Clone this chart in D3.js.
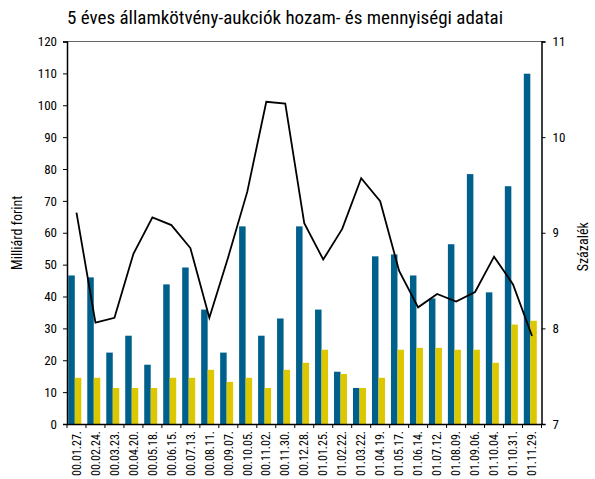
<!DOCTYPE html>
<html>
<head>
<meta charset="utf-8">
<script src="https://cdn.jsdelivr.net/npm/d3@7"></script>
<style>
  body { margin: 0; background: #fff; }
  svg text { font-family: "Liberation Sans Narrow", "Arial Narrow", "Roboto Condensed", sans-serif; fill: #000; }
</style>
</head>
<body>
<div id="chart"></div>
<script>
// auction dates
const dates = ['00.01.27.', '00.02.24.', '00.03.23.', '00.04.20.', '00.05.18.', '00.06.15.', '00.07.13.',
  '00.08.11.', '00.09.07.', '00.10.05.', '00.11.02.', '00.11.30.', '00.12.28.', '01.01.25.', '01.02.22.',
  '01.03.22.', '01.04.19.', '01.05.17.', '01.06.14.', '01.07.12.', '01.08.09.', '01.09.06.', '01.10.04.',
  '01.10.31.', '01.11.29.'];

// milliard forint (left axis)
const blueValues = [46.6, 46, 22.4, 27.7, 18.6, 43.8, 49.1, 35.9, 22.4, 62, 27.7, 33.1, 62,
  35.9, 16.4, 11.3, 52.6, 53.2, 46.6, 39.4, 56.4, 78.4, 41.3, 74.6, 109.9];
const yellowValues = [14.5, 14.5, 11.3, 11.3, 11.3, 14.5, 14.5, 17, 13.2, 14.5, 11.3, 17, 19.2,
  23.3, 15.7, 11.3, 14.5, 23.3, 23.9, 23.9, 23.3, 23.3, 19.2, 31.2, 32.4];

// percent (right axis)
const yieldValues = [9.21, 8.06, 8.11, 8.78, 9.16, 9.08, 8.84, 8.11, 8.75, 9.43, 10.37, 10.35, 9.1,
  8.72, 9.04, 9.57, 9.33, 8.6, 8.22, 8.36, 8.28, 8.38, 8.75, 8.46, 7.92];

const leftTicks = d3.range(0, 121, 10);
const rightTicks = [7, 8, 9, 10, 11];

const W = 595, H = 479;
const margin = { top: 41.5, right: 53.5, bottom: 55, left: 67 };
const width = W - margin.left - margin.right;
const height = H - margin.top - margin.bottom;

const svg = d3.select('#chart').append('svg')
  .attr('width', W)
  .attr('height', H);

svg.append('text')
  .attr('x', 67)
  .attr('y', 24)
  .style('font-size', '19px')
  .text('5 éves államkötvény-aukciók hozam- és mennyiségi adatai');

const g = svg.append('g')
  .attr('transform', `translate(${margin.left},${margin.top})`);

// scales
const x = d3.scaleBand().domain(dates).range([0, width]);
const xSub = d3.scaleBand().domain(['blue', 'yellow']).range([1.3, 14.3]);
const y = d3.scaleLinear().domain([0, 120]).range([height, 0]);
const y2 = d3.scaleLinear().domain([7, 11]).range([height, 0]);

// top border
g.append('line')
  .attr('x1', 0).attr('x2', width + 2)
  .attr('y1', 0).attr('y2', 0)
  .attr('stroke', '#666').attr('stroke-width', 1);

// bars
const rows = dates.map((d, i) => ({ date: d, blue: blueValues[i], yellow: yellowValues[i], yld: yieldValues[i] }));

g.selectAll('.bar-blue')
  .data(rows)
  .enter().append('rect')
  .attr('x', (d) => x(d.date) + xSub('blue'))
  .attr('y', (d) => y(d.blue))
  .attr('width', xSub.bandwidth())
  .attr('height', (d) => height - y(d.blue))
  .attr('fill', '#00608c');

g.selectAll('.bar-yellow')
  .data(rows)
  .enter().append('rect')
  .attr('x', (d) => x(d.date) + xSub('yellow'))
  .attr('y', (d) => y(d.yellow))
  .attr('width', xSub.bandwidth())
  .attr('height', (d) => height - y(d.yellow))
  .attr('fill', '#ddc800');

// yield line
const line = d3.line()
  .x((d) => x(d.date) + x.bandwidth() / 2)
  .y((d) => y2(d.yld));

g.append('path')
  .datum(rows)
  .attr('fill', 'none')
  .attr('stroke', '#000')
  .attr('stroke-width', 1.8)
  .attr('stroke-linejoin', 'miter')
  .attr('d', line);

// axes
const leftAxis = g.append('g')
  .call(d3.axisLeft(y).tickValues(leftTicks).tickSize(4).tickPadding(6));
const rightAxis = g.append('g')
  .attr('transform', `translate(${width},0)`)
  .call(d3.axisRight(y2).tickValues(rightTicks).tickSize(4).tickPadding(7).tickFormat(d3.format('d')));
const bottomAxis = g.append('g')
  .attr('transform', `translate(0,${height})`)
  .call(d3.axisBottom(x).tickSize(0).tickPadding(0));

[leftAxis, rightAxis].forEach((a) => {
  a.select('.domain').attr('stroke', '#000').attr('stroke-width', 1.5);
  a.selectAll('.tick line').attr('stroke', '#000');
  a.selectAll('.tick text').attr('font-size', 13);
});

bottomAxis.select('.domain').attr('stroke', '#000').attr('stroke-width', 1.5);
bottomAxis.selectAll('.tick text')
  .attr('font-size', 12)
  .attr('transform', 'rotate(-90)')
  .attr('text-anchor', 'end')
  .attr('x', -7)
  .attr('y', 0)
  .attr('dy', '0.35em');

// category boundary ticks
g.append('g')
  .selectAll('line')
  .data(dates.concat(['end']))
  .enter().append('line')
  .attr('x1', (d, i) => i * x.step())
  .attr('x2', (d, i) => i * x.step())
  .attr('y1', height)
  .attr('y2', height + 4)
  .attr('stroke', '#000');

// axis titles
svg.append('text')
  .attr('transform', `translate(22,${margin.top + height / 2}) rotate(-90)`)
  .attr('text-anchor', 'middle')
  .attr('font-size', 14)
  .text('Milliárd forint');

svg.append('text')
  .attr('transform', `translate(588,${margin.top + height / 2 + 14}) rotate(-90)`)
  .attr('text-anchor', 'middle')
  .attr('font-size', 14)
  .text('Százalék');
</script>
</body>
</html>
